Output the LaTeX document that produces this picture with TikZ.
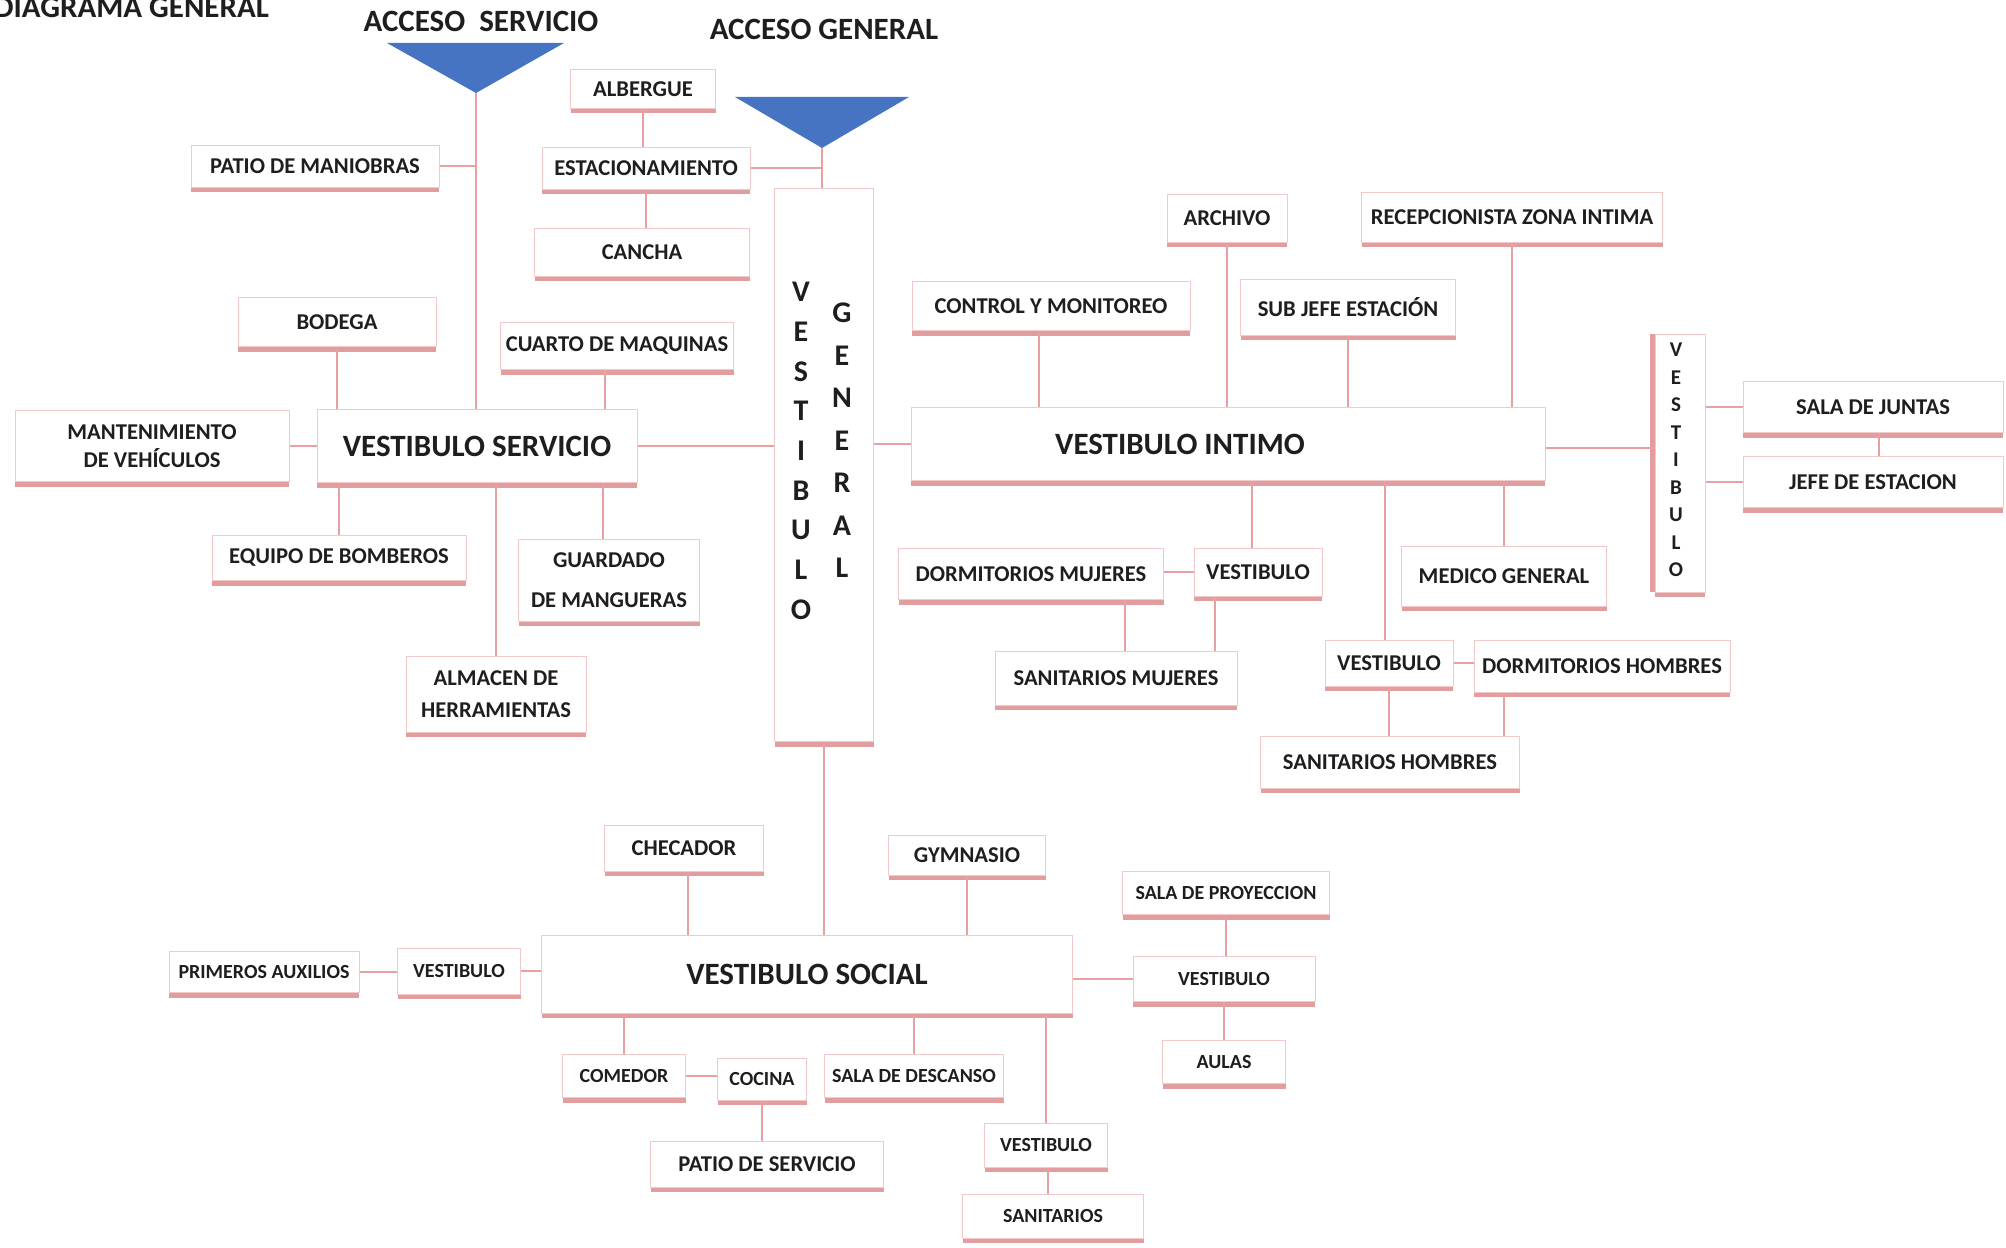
\documentclass[tikz,border=0pt]{standalone}
\usepackage{fontspec}
\setmainfont{Carlito}
\usetikzlibrary{shadows}

\definecolor{rosa}{RGB}{232,160,160}
\definecolor{borde}{RGB}{242,200,200}
\definecolor{sombra}{RGB}{226,158,158}
\definecolor{triazul}{RGB}{70,116,194}
\definecolor{letra}{RGB}{30,30,30}

\newcommand\grande{\fontsize{15.5}{18}\selectfont\bfseries}
\newcommand\medio{\fontsize{11.3}{14}\selectfont\bfseries}
\newcommand\chico{\fontsize{10}{12}\selectfont\bfseries}
\newcommand\vertgrande{\fontsize{15}{18}\selectfont\bfseries}
\newcommand\vertchica{\fontsize{10.5}{12}\selectfont\bfseries}

\tikzset{
  caja/.style 2 args={draw=borde, fill=white, line width=0.5pt, text=letra,
    font=\medio, align=center, inner sep=1pt,
    minimum width=#1*0.5pt, minimum height=#2*0.5pt,
    drop shadow={shadow xshift=0pt, shadow yshift=-2.5pt, fill=sombra, opacity=1}},
  conector/.style={draw=rosa, line width=1.1pt},
  titulo/.style={text=letra, font=\grande},
  vletra/.style={text=letra, inner sep=0pt}
}

\begin{document}
\begin{tikzpicture}[x=0.5pt, y=-0.5pt]
  \useasboundingbox (0,0) rectangle (2006,1247);

  % titulos y accesos
  \node[titulo, anchor=base east] (diag) at (276,18) {DIAGRAMA GENERAL};
  \node[titulo] (tserv) at (481,21) {ACCESO\ \ SERVICIO};
  \node[titulo] (tgen) at (824,29) {ACCESO GENERAL};
  \coordinate (as) at (476,93);
  \coordinate (ag) at (822,148);
  \fill[triazul] (387,43) -- (564,43) -- (as) -- cycle;
  \fill[triazul] (735,97) -- (909,97) -- (ag) -- cycle;

  % zona de servicio
  \node[caja={248}{42}] (patio) at (315,166) {PATIO DE MANIOBRAS};
  \node[caja={145}{39}] (albergue) at (643,89) {ALBERGUE};
  \node[caja={208}{42}] (estac) at (646,168) {ESTACIONAMIENTO};
  \node[caja={215}{48}] (cancha) at (642,252) {CANCHA};
  \node[caja={198}{49}] (bodega) at (337,322) {BODEGA};
  \node[caja={233}{47}] (cuarto) at (617,346) {CUARTO DE MAQUINAS};
  \node[caja={274}{71}] (mant) at (152,446) {MANTENIMIENTO\\DE VEHÍCULOS};
  \node[caja={320}{73}, font=\grande] (vserv) at (477,446) {VESTIBULO SERVICIO};
  \node[caja={254}{45}] (bomb) at (339,558) {EQUIPO DE BOMBEROS};
  \node[caja={181}{82}] (mang) at (609,580) {GUARDADO\\[6pt]DE MANGUERAS};
  \node[caja={180}{76}] (almacen) at (496,694) {ALMACEN DE\\[2pt]HERRAMIENTAS};

  % vestibulo general
  \node[caja={99}{553}] (vgen) at (824,465) {};
  \foreach \l [count=\i] in {V,E,S,T,I,B,U,L,O}
    \node[vletra, font=\vertgrande] (vga\i) at (801,292+39.7*\i-39.7) {\l};
  \foreach \l [count=\i] in {G,E,N,E,R,A,L}
    \node[vletra, font=\vertgrande] (vgb\i) at (842,313+42.5*\i-42.5) {\l};

  % zona intima
  \node[caja={120}{48}] (archivo) at (1227,218) {ARCHIVO};
  \node[caja={301}{50}] (recep) at (1512,217) {RECEPCIONISTA ZONA INTIMA};
  \node[caja={278}{49}] (control) at (1051,306) {CONTROL Y MONITOREO};
  \node[caja={215}{56}] (subjefe) at (1348,307) {SUB JEFE ESTACIÓN};
  \node[caja={634}{73}, font=\grande] (vint) at (1228,444) {VESTIBULO INTIMO\hspace*{48pt}};
  \node[caja={50}{258}, drop shadow={shadow xshift=-2.5pt, shadow yshift=0pt, fill=sombra, opacity=1}] (vder) at (1680,463) {};
  \foreach \l [count=\i] in {V,E,S,T,I,B,U,L,O}
    \node[vletra, font=\vertchica] (vd\i) at (1676,350+27.5*\i-27.5) {\l};
  \node[caja={260}{51}] (juntas) at (1873,407) {SALA DE JUNTAS};
  \node[caja={260}{51}] (jefe) at (1873,482) {JEFE DE ESTACION};
  \node[caja={265}{51}] (dormm) at (1031,574) {DORMITORIOS MUJERES};
  \node[caja={128}{48}] (vestm) at (1258,572) {VESTIBULO};
  \node[caja={205}{60}] (medico) at (1504,576) {MEDICO GENERAL};
  \node[caja={242}{54}] (sanm) at (1116,678) {SANITARIOS MUJERES};
  \node[caja={128}{46}] (vesth) at (1389,663) {VESTIBULO};
  \node[caja={256}{52}] (dormh) at (1602,666) {DORMITORIOS HOMBRES};
  \node[caja={259}{52}] (sanh) at (1390,762) {SANITARIOS HOMBRES};

  % zona social
  \node[caja={159}{46}] (checador) at (684,848) {CHECADOR};
  \node[caja={157}{40}] (gym) at (967,855) {GYMNASIO};
  \node[caja={207}{43}, font=\chico] (proy) at (1226,893) {SALA DE PROYECCION};
  \node[caja={190}{41}, font=\chico] (primeros) at (264,972) {PRIMEROS AUXILIOS};
  \node[caja={123}{46}, font=\chico] (vestl) at (459,971) {VESTIBULO};
  \node[caja={531}{78}, font=\grande] (vsoc) at (807,974) {VESTIBULO SOCIAL};
  \node[caja={182}{45}, font=\chico] (vestr) at (1224,979) {VESTIBULO};
  \node[caja={123}{43}, font=\chico] (aulas) at (1224,1062) {AULAS};
  \node[caja={123}{43}, font=\chico] (comedor) at (624,1076) {COMEDOR};
  \node[caja={89}{42}, font=\chico] (cocina) at (762,1079) {COCINA};
  \node[caja={179}{43}, font=\chico] (descanso) at (914,1076) {SALA DE DESCANSO};
  \node[caja={233}{46}] (patioserv) at (767,1164) {PATIO DE SERVICIO};
  \node[caja={123}{44}, font=\chico] (vests) at (1046,1145) {VESTIBULO};
  \node[caja={181}{44}, font=\chico] (sanit) at (1053,1216) {SANITARIOS};

  % conexiones zona de servicio
  \draw[conector] (as) -- (as |- vserv.north);
  \draw[conector] (patio.east) -- (patio.east -| as);
  \draw[conector] (albergue.south) -- (albergue.south |- estac.north);
  \draw[conector] (estac.east) -- (estac.east -| ag);
  \draw[conector] (ag) -- (ag |- vgen.north);
  \draw[conector] (estac.south) -- (estac.south |- cancha.north);
  \draw[conector] (bodega.south) -- (bodega.south |- vserv.north);
  \draw[conector] ([xshift=-6pt]cuarto.south) -- ([xshift=-6pt]cuarto.south |- vserv.north);
  \draw[conector] (mant.east) -- (mant.east -| vserv.west);
  \draw[conector] (vserv.east) -- (vserv.east -| vgen.west);
  \draw[conector] (bomb.north) -- (bomb.north |- vserv.south);
  \draw[conector] (almacen.north) -- (almacen.north |- vserv.south);
  \draw[conector] ([xshift=-3pt]mang.north) -- ([xshift=-3pt]mang.north |- vserv.south);

  % conexiones zona intima
  \draw[conector] (vint.west) -- (vint.west -| vgen.east);
  \draw[conector] ([xshift=-6pt]control.south) -- ([xshift=-6pt]control.south |- vint.north);
  \draw[conector] (archivo.south) -- (archivo.south |- vint.north);
  \draw[conector] (subjefe.south) -- (subjefe.south |- vint.north);
  \draw[conector] (recep.south) -- (recep.south |- vint.north);
  \draw[conector] ([yshift=-2pt]vint.east) -- ([yshift=-2pt]vint.east -| vder.west);
  \draw[conector] (juntas.west) -- (juntas.west -| vder.east);
  \draw[conector] (jefe.west) -- (jefe.west -| vder.east);
  \draw[conector] ([xshift=3pt]juntas.south) -- ([xshift=3pt]juntas.south |- jefe.north);
  \draw[conector] ([xshift=-3pt]vestm.north) -- ([xshift=-3pt]vestm.north |- vint.south);
  \draw[conector] (vestm.west) -- (vestm.west -| dormm.east);
  \draw[conector] ([xshift=47pt]dormm.south) -- ([xshift=47pt]dormm.south |- sanm.north);
  \draw[conector] ([xshift=-21.5pt]vestm.south) -- ([xshift=-21.5pt]vestm.south |- sanm.north);
  \draw[conector] ([xshift=-2pt]vesth.north) -- ([xshift=-2pt]vesth.north |- vint.south);
  \draw[conector] (medico.north) -- (medico.north |- vint.south);
  \draw[conector] (vesth.east) -- (vesth.east -| dormh.west);
  \draw[conector] (vesth.south) -- (vesth.south |- sanh.north);
  \draw[conector] ([xshift=-49pt]dormh.south) -- ([xshift=-49pt]dormh.south |- sanh.north);

  % conexiones zona social
  \draw[conector] (vgen.south) -- (vgen.south |- vsoc.north);
  \draw[conector] ([xshift=2pt]checador.south) -- ([xshift=2pt]checador.south |- vsoc.north);
  \draw[conector] (gym.south) -- (gym.south |- vsoc.north);
  \draw[conector] (primeros.east) -- (primeros.east -| vestl.west);
  \draw[conector] (vestl.east) -- (vestl.east -| vsoc.west);
  \draw[conector] (vestr.west) -- (vestr.west -| vsoc.east);
  \draw[conector] (proy.south) -- (proy.south |- vestr.north);
  \draw[conector] (vestr.south) -- (vestr.south |- aulas.north);
  \draw[conector] (comedor.north) -- (comedor.north |- vsoc.south);
  \draw[conector] (comedor.east) -- (comedor.east -| cocina.west);
  \draw[conector] (cocina.south) -- (cocina.south |- patioserv.north);
  \draw[conector] (descanso.north) -- (descanso.north |- vsoc.south);
  \draw[conector] (vests.north) -- (vests.north |- vsoc.south);
  \draw[conector] ([xshift=1pt]vests.south) -- ([xshift=1pt]vests.south |- sanit.north);
\end{tikzpicture}
\end{document}
